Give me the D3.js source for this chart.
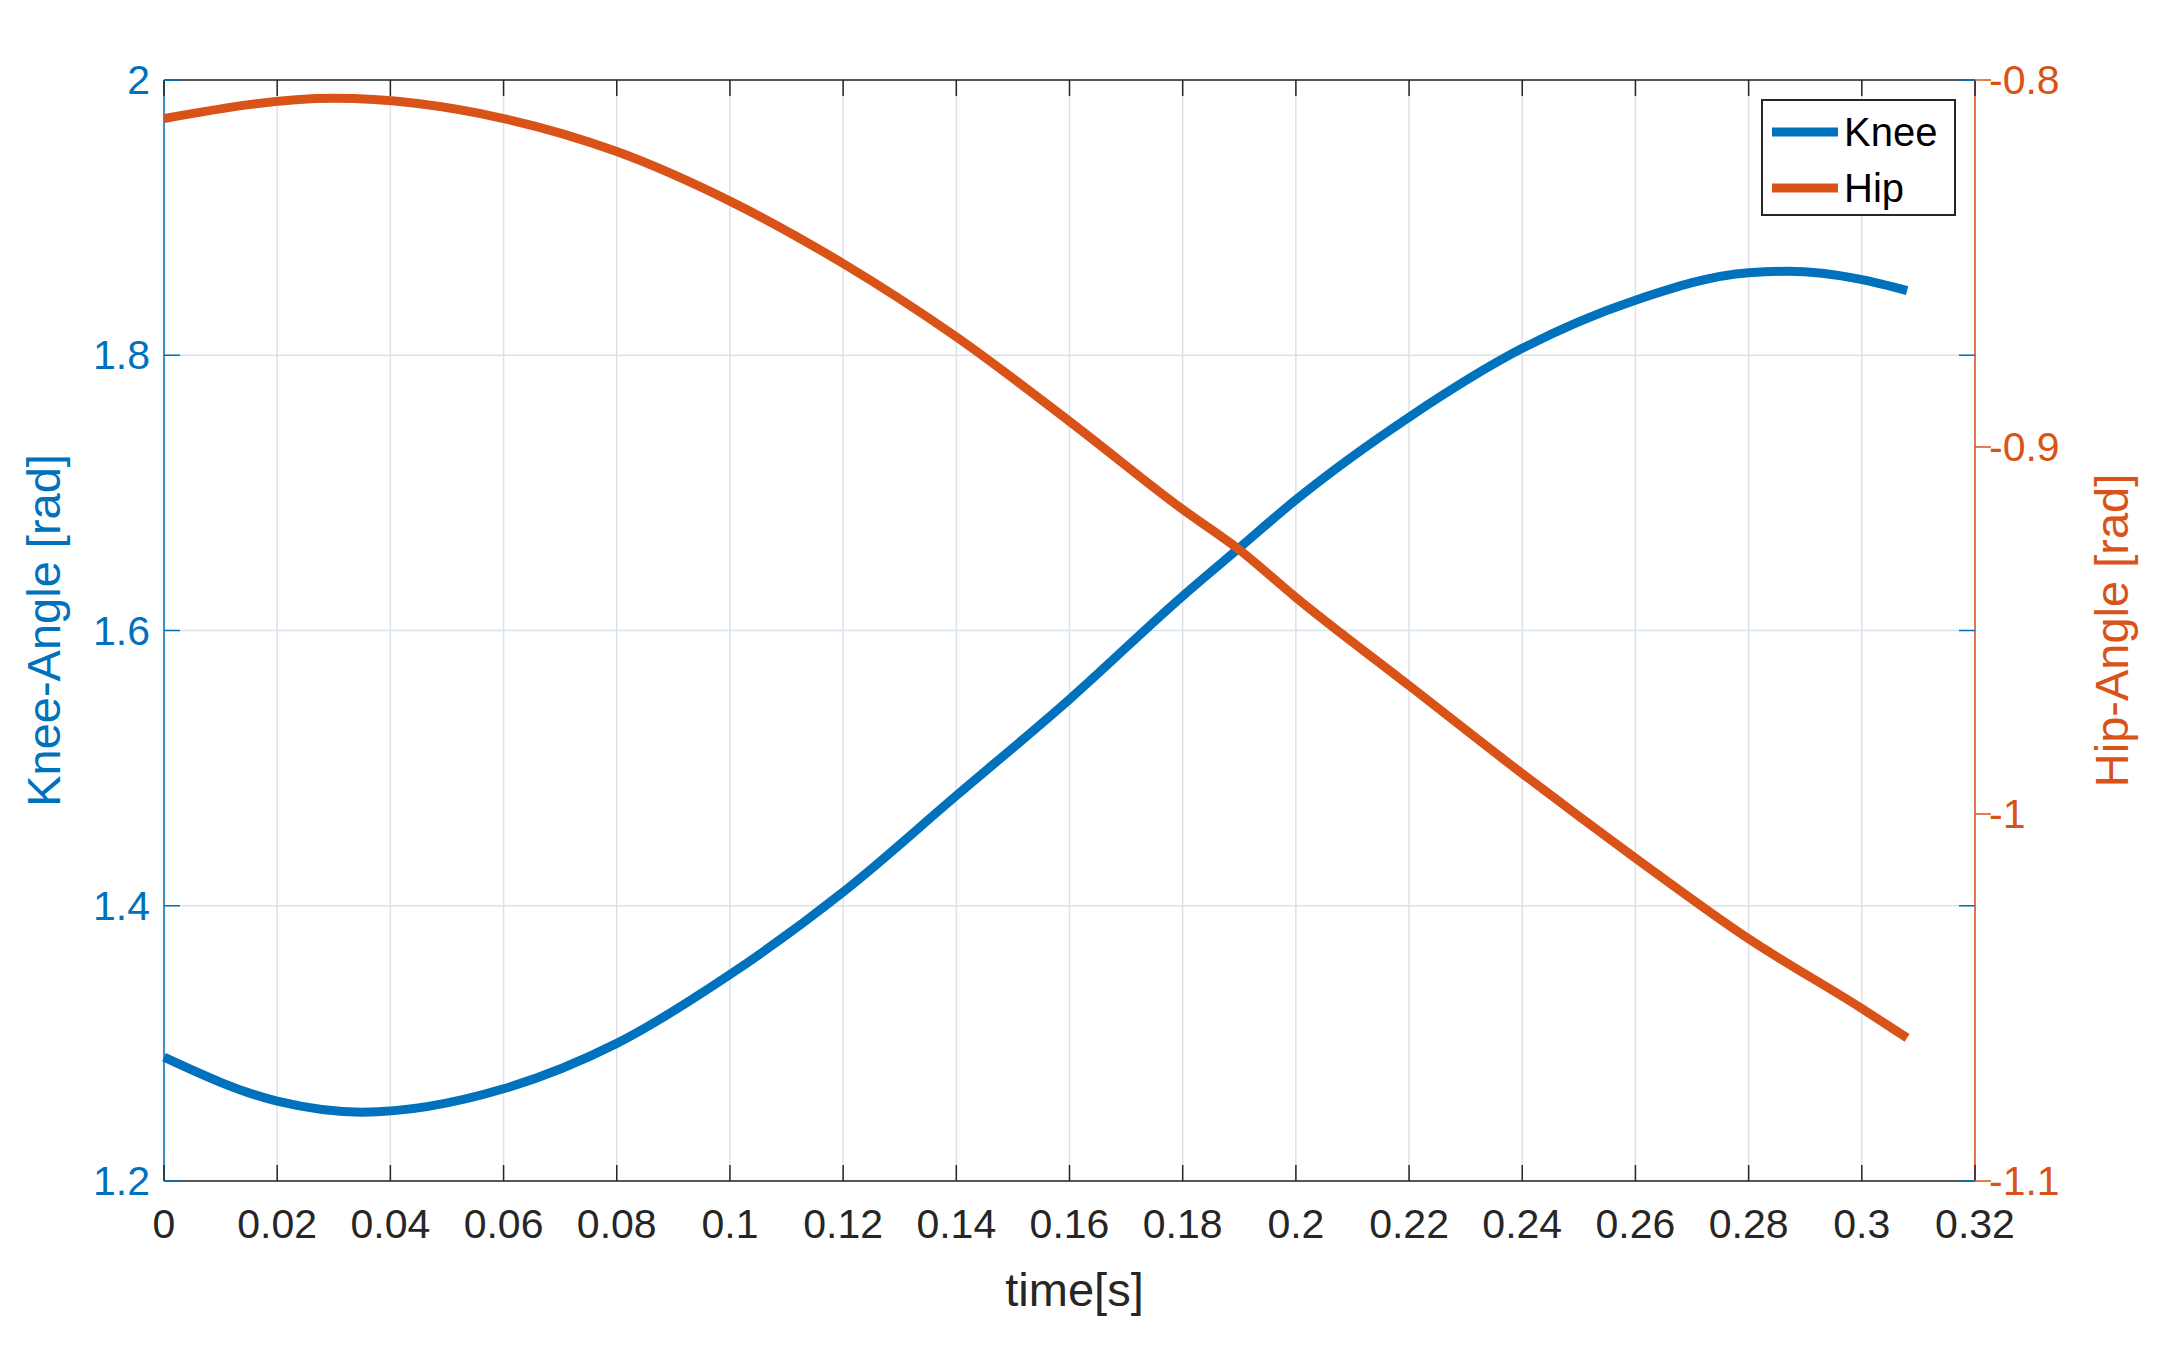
<!DOCTYPE html>
<html><head><meta charset="utf-8">
<script src="https://cdn.jsdelivr.net/npm/d3@7"></script>
<style>body{margin:0;background:#fff}text{font-family:"Liberation Sans",Arial,sans-serif}</style>
</head><body><svg id="c" width="2164" height="1354"></svg>
<script>
const time = [0,0.02,0.035,0.06,0.08,0.1,0.12,0.14,0.16,0.18,0.19,0.2,0.22,0.24,0.26,0.28,0.287,0.3,0.308];
const knee = [1.29,1.258,1.25,1.267,1.30,1.35,1.41,1.48,1.55,1.625,1.66,1.695,1.755,1.805,1.84,1.86,1.861,1.855,1.847];
const hipTime = [0,0.03,0.06,0.08,0.1,0.12,0.14,0.16,0.18,0.19,0.2,0.22,0.24,0.26,0.28,0.3,0.308];
const hip = [-0.8105,-0.805,-0.8105,-0.8195,-0.833,-0.850,-0.870,-0.893,-0.917,-0.928,-0.941,-0.965,-0.989,-1.012,-1.034,-1.053,-1.061];
const xTicks = d3.range(0,0.3201,0.02);
const kneeTicks = [1.2,1.4,1.6,1.8,2];
const hipTicks = [-1.1,-1,-0.9,-0.8];

const L=164,R=1975,T=80,B=1181;
const blue="#0072BD", red="#D95319";
const svg=d3.select("#c");
const x=d3.scaleLinear().domain([0,0.32]).range([L,R]);
const yK=d3.scaleLinear().domain([1.2,2]).range([B,T]);
const yH=d3.scaleLinear().domain([-1.1,-0.8]).range([B,T]);
const fmt=d=>String(+d.toFixed(2));

const g=svg.append("g");
g.selectAll(".vg").data(xTicks).join("line").attr("x1",x).attr("x2",x).attr("y1",T).attr("y2",B).attr("stroke","#dde1e6").attr("stroke-width",1.5);
g.selectAll(".hg").data(kneeTicks).join("line").attr("x1",L).attr("x2",R).attr("y1",yK).attr("y2",yK).attr("stroke","#d5e3ef").attr("stroke-width",1.5);

// frame
svg.append("line").attr("x1",L).attr("x2",R).attr("y1",T).attr("y2",T).attr("stroke","#262626").attr("stroke-width",1.5);
svg.append("line").attr("x1",L).attr("x2",R).attr("y1",B).attr("y2",B).attr("stroke","#262626").attr("stroke-width",1.5);
svg.append("line").attr("x1",L).attr("x2",L).attr("y1",T).attr("y2",B).attr("stroke",blue).attr("stroke-width",1.5);
svg.append("line").attr("x1",R).attr("x2",R).attr("y1",T).attr("y2",B).attr("stroke",red).attr("stroke-width",1.5);

const fs=41;
const xa=svg.append("g");
xTicks.forEach(t=>{
  xa.append("line").attr("x1",x(t)).attr("x2",x(t)).attr("y1",B).attr("y2",B-16).attr("stroke","#262626").attr("stroke-width",1.5);
  xa.append("line").attr("x1",x(t)).attr("x2",x(t)).attr("y1",T).attr("y2",T+16).attr("stroke","#262626").attr("stroke-width",1.5);
  xa.append("text").attr("x",x(t)).attr("y",B+57).attr("text-anchor","middle").attr("font-size",fs).attr("fill","#262626").text(fmt(t));
});
kneeTicks.forEach(v=>{
  svg.append("line").attr("x1",L).attr("x2",L+16).attr("y1",yK(v)).attr("y2",yK(v)).attr("stroke",blue).attr("stroke-width",1.5);
  svg.append("line").attr("x1",R).attr("x2",R-16).attr("y1",yK(v)).attr("y2",yK(v)).attr("stroke",blue).attr("stroke-width",1.5);
  svg.append("text").attr("x",L-14).attr("y",yK(v)+14).attr("text-anchor","end").attr("font-size",fs).attr("fill",blue).text(fmt(v));
});
hipTicks.forEach(v=>{
  svg.append("line").attr("x1",R).attr("x2",R+16).attr("y1",yH(v)).attr("y2",yH(v)).attr("stroke",red).attr("stroke-width",1.5);
  svg.append("text").attr("x",R+14).attr("y",yH(v)+14).attr("text-anchor","start").attr("font-size",fs).attr("fill",red).text(fmt(v));
});
svg.append("text").attr("x",(L+R)/2+5).attr("y",B+125).attr("text-anchor","middle").attr("font-size",47).attr("fill","#262626").text("time[s]");
svg.append("text").attr("transform",`translate(60,${(T+B)/2}) rotate(-90)`).attr("text-anchor","middle").attr("font-size",47).attr("fill",blue).text("Knee-Angle [rad]");
svg.append("text").attr("transform",`translate(2128,${(T+B)/2}) rotate(-90)`).attr("text-anchor","middle").attr("font-size",47).attr("fill",red).text("Hip-Angle [rad]");

const lk=d3.line().x((d,i)=>x(time[i])).y(d=>yK(d)).curve(d3.curveMonotoneX);
const lh=d3.line().x((d,i)=>x(hipTime[i])).y(d=>yH(d)).curve(d3.curveMonotoneX);
svg.append("path").attr("d",lk(knee)).attr("fill","none").attr("stroke",blue).attr("stroke-width",9);
svg.append("path").attr("d",lh(hip)).attr("fill","none").attr("stroke",red).attr("stroke-width",9);

// legend
const lg=svg.append("g").attr("transform","translate(1762,100)");
lg.append("rect").attr("width",193).attr("height",115).attr("fill","#fff").attr("stroke","#262626").attr("stroke-width",2);
[["Knee",blue],["Hip",red]].forEach((d,i)=>{
  const yy=32+i*56;
  lg.append("line").attr("x1",10).attr("x2",76).attr("y1",yy).attr("y2",yy).attr("stroke",d[1]).attr("stroke-width",9);
  lg.append("text").attr("x",82).attr("y",yy+14).attr("font-size",40).attr("fill","#000").text(d[0]);
});
</script></body></html>
